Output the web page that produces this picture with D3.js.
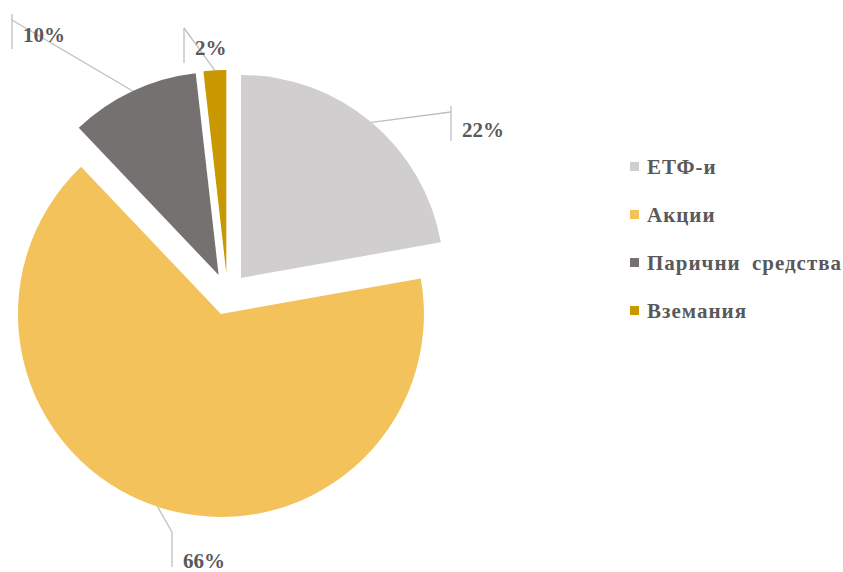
<!DOCTYPE html>
<html>
<head>
<meta charset="utf-8">
<script src="https://cdnjs.cloudflare.com/ajax/libs/d3/7.8.5/d3.min.js"></script>
<style>
  body { margin: 0; background: #fff; }
  text { font-family: "Liberation Serif", serif; font-weight: bold; fill: #595959; }
</style>
</head>
<body>
<div id="plot"></div>
<script>
// data
var categories = ["ЕТФ-и", "Акции", "Парични средства", "Вземания"];
var shares = [22.2, 65.7, 10.3, 1.8];
var colors = ["#D0CECE", "#F3C25A", "#767171", "#C99700"];

var w = 843, h = 572;
var cx = 227.5, cy = 294;
var radius = 203;
var explode = 21;

// where the data labels sit (bracket x, bracket top, text baseline offset)
var labelPos = [[451, 106, 31], [172, 532, 36], [12, 14, 28], [184, 28, 27]];

var svg = d3.select("div#plot")
  .append("svg")
    .attr("width", w)
    .attr("height", h);

var pie = d3.pie().sort(null).value(d => d);
var arcs = pie(shares);
var arc = d3.arc().innerRadius(0).outerRadius(radius);
var total = d3.sum(shares);

// each slice pushed out along its bisector
function apex(d) {
  var a = (d.startAngle + d.endAngle) / 2;
  return [cx + explode * Math.sin(a), cy - explode * Math.cos(a)];
}

var slices = svg.append("g").selectAll("path")
  .data(arcs)
  .enter().append("path")
    .attr("transform", d => `translate(${apex(d)[0]}, ${apex(d)[1]})`)
    .attr("d", arc)
    .attr("fill", (d, i) => colors[i]);

// leader lines and labels
var labels = svg.append("g");

arcs.forEach(function(d, i) {
  var a = (d.startAngle + d.endAngle) / 2;
  var p = apex(d);
  var sx = p[0] + radius * Math.sin(a), sy = p[1] - radius * Math.cos(a);
  var bx = labelPos[i][0], by = labelPos[i][1];
  var ey = i == 0 || i == 2 ? by + 6 : by;

  labels.append("line")
      .attr("x1", sx).attr("y1", sy)
      .attr("x2", bx).attr("y2", ey)
      .attr("stroke", "#BFBFBF").attr("stroke-width", 1.3);

  labels.append("line")
      .attr("x1", bx).attr("y1", by)
      .attr("x2", bx).attr("y2", by + 35)
      .attr("stroke", "#BFBFBF").attr("stroke-width", 1.3);

  labels.append("text")
      .attr("x", bx + 11)
      .attr("y", by + labelPos[i][2])
      .attr("font-size", "21px")
      .text(Math.round(d.data / total * 100) + "%");
});

// legend
var legend = svg.append("g")
    .attr("transform", "translate(630, 166.5)");

var items = legend.selectAll("g")
  .data(categories)
  .enter().append("g")
    .attr("transform", (d, i) => `translate(0, ${i * 48})`);

items.append("rect")
    .attr("x", 0).attr("y", -4.5)
    .attr("width", 9).attr("height", 9)
    .attr("fill", (d, i) => colors[i]);

items.append("text")
    .attr("x", 17)
    .attr("y", 7)
    .attr("font-size", "21px")
    .attr("letter-spacing", "1px")
    .attr("word-spacing", "5px")
    .text(d => d);
</script>
</body>
</html>
